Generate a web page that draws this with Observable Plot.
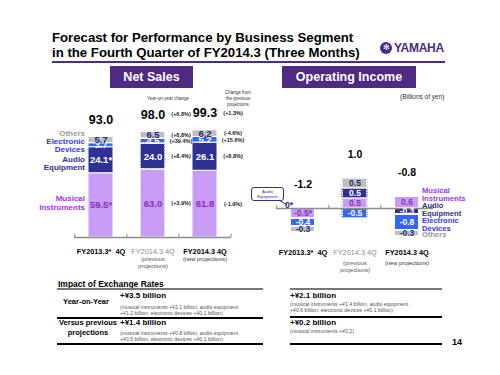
<!DOCTYPE html>
<html><head><meta charset="utf-8">
<script src="https://cdn.jsdelivr.net/npm/d3@7"></script>
<script src="https://cdn.jsdelivr.net/npm/@observablehq/plot@0.6"></script>
<style>
body{margin:0;background:#fff;}
#page{position:relative;width:500px;height:375px;overflow:hidden;font-family:"Liberation Sans",Arial,sans-serif;color:#000;background:#fff;}
#page > div, #page > svg{position:absolute;}
.hdr{background:#4e2a84;color:#fff;font-weight:bold;font-size:12.5px;display:flex;align-items:center;justify-content:center;}
.b{font-weight:bold;}
.sm{font-size:5.2px;color:#555;line-height:6.3px;white-space:nowrap;}
</style></head><body>
<div id="page">
  <div class="b" style="left:52px;top:30px;font-size:13.2px;line-height:15px;white-space:nowrap;">Forecast for Performance by Business Segment<br>in the Fourth Quarter of FY2014.3 (Three Months)</div>
  <div style="left:52px;top:61px;width:393px;height:2px;background:#4b2c86;"></div>
  <div style="left:380px;top:42px;width:12px;height:12px;border-radius:50%;background:#4b2c86;color:#fff;font-size:8px;line-height:12px;text-align:center;">✻</div>
  <div class="b" style="left:394px;top:41px;font-size:12px;color:#4b2c86;letter-spacing:-0.3px;">YAMAHA</div>
  <div class="hdr" style="left:110px;top:66px;width:83px;height:22px;">Net Sales</div>
  <div class="hdr" style="left:282px;top:66px;width:134px;height:22px;">Operating Income</div>
  <div style="left:400px;top:93px;font-size:6.5px;color:#333;">(Billions of yen)</div>
  <div style="left:140px;top:96px;width:56px;text-align:center;font-size:4.5px;color:#333;">Year-on-year change</div>
  <div style="left:215px;top:90px;width:46px;text-align:center;font-size:4.5px;line-height:5.8px;color:#333;">Change from<br>the previous<br>projections</div>
  <div id="sales" style="left:0;top:90px;"></div>
  <div id="oi" style="left:250px;top:90px;"></div>
  <div style="left:251px;top:187px;width:31px;height:12px;border:1px solid #2e3192;border-radius:3px;background:#fff;color:#2e3192;font-size:4.3px;line-height:5px;text-align:center;display:flex;align-items:center;justify-content:center;">Audio<br>Equipment</div>
  <svg style="left:276px;top:198px;" width="14" height="10"><path d="M3,2 L11,7" stroke="#2e3192" stroke-width="1" fill="none"/></svg>

  <div class="b" style="left:58px;top:279px;font-size:8.5px;">Impact of Exchange Rates</div>
  <div style="left:57px;top:288px;width:206px;height:2px;background:#777;"></div>
  <div style="left:290px;top:288px;width:152px;height:2px;background:#777;"></div>
  <div class="b" style="left:57px;top:297px;width:58px;text-align:center;font-size:7.5px;">Year-on-Year</div>
  <div class="b" style="left:120px;top:291px;font-size:8px;">+¥3.5 billion</div>
  <div class="sm" style="left:120px;top:304px;">(musical instruments +¥2.1 billion, audio equipment<br>+¥1.2 billion, electronic devices +¥0.1 billion)</div>
  <div style="left:57px;top:317px;width:206px;height:1.5px;background:#000;"></div>
  <div class="b" style="left:57px;top:318px;width:62px;text-align:center;font-size:7.5px;line-height:10px;">Versus previous<br>projections</div>
  <div class="b" style="left:120px;top:318px;font-size:8px;">+¥1.4 billion</div>
  <div class="sm" style="left:120px;top:330px;">(musical instruments +¥0.8 billion, audio equipment<br>+¥0.5 billion, electronic devices +¥0.1 billion)</div>
  <div style="left:57px;top:343px;width:206px;height:2px;background:#000;"></div>
  <div class="b" style="left:290px;top:291px;font-size:8px;">+¥2.1 billion</div>
  <div class="sm" style="left:290px;top:301px;">(musical instruments +¥1.4 billion, audio equipment<br>+¥0.6 billion, electronic devices +¥0.1 billion)</div>
  <div style="left:290px;top:316px;width:152px;height:1.5px;background:#000;"></div>
  <div class="b" style="left:290px;top:318px;font-size:8px;">+¥0.2 billion</div>
  <div class="sm" style="left:290px;top:328px;">(musical instruments +¥0.2)</div>
  <div style="left:290px;top:343px;width:152px;height:2px;background:#000;"></div>
  <div class="b" style="left:452px;top:337px;font-size:9px;">14</div>
</div>
<script>
// ---- data ----
const periods = ["FY2013.3 4Q", "FY2014.3 4Q (previous)", "FY2014.3 4Q (new)"];
const periodLine1 = ["FY2013.3*  4Q", "FY2014.3 4Q", "FY2014.3 4Q"];
const periodLine2 = ["", "(previous\nprojections)", "(new projections)"];
const segments = ["Musical Instruments", "Audio Equipment", "Electronic Devices", "Others"];
const segmentLabels = ["Musical\nInstruments", "Audio\nEquipment", "Electronic\nDevices", "Others"];

const salesMusical    = [59.5, 63.0, 61.8];
const salesAudio      = [24.1, 24.0, 26.1];
const salesElectronic = [3.7, 4.5, 5.2];
const salesOthers     = [5.7, 6.5, 6.2];
const salesTotal      = [93.0, 98.0, 99.3];

const yoyTotal = "(+6.8%)";
const yoyBySegment = ["(+3.9%)", "(+8.4%)", "(+39.4%)", "(+8.8%)"];
const projTotal = "(+1.3%)";
const projBySegment = ["(-1.9%)", "(+8.8%)", "(+15.6%)", "(-4.6%)"];

const oiMusical    = [-0.5, 0.5, 0.6];
const oiAudio      = [0, 0.5, -0.3];
const oiElectronic = [-0.4, -0.5, -0.8];
const oiOthers     = [-0.3, 0.5, -0.3];
const oiTotal      = [-1.2, 1.0, -0.8];

// ---- styles ----
const segFill = {"Musical Instruments":"#c89cf6","Audio Equipment":"#2e3192","Electronic Devices":"#3366ff","Others":"#bfbfbf"};
const segInk  = {"Musical Instruments":"#8a2cc0","Audio Equipment":"#ffffff","Electronic Devices":"#ffffff","Others":"#1c2a80"};
const segLegendInk = {"Musical Instruments":"#a035f2","Audio Equipment":"#2e3192","Electronic Devices":"#3535f0","Others":"#9a9a9a"};
const FONT = "Liberation Sans, Arial, sans-serif";

function makeRows(cols) {
  const out = [];
  periods.forEach((p, i) => segments.forEach((s, j) => out.push({period: p, i, seg: s, j, value: cols[j][i]})));
  return out;
}
const salesRows = makeRows([salesMusical, salesAudio, salesElectronic, salesOthers]);
const oiRows = makeRows([oiMusical, oiAudio, oiElectronic, oiOthers]);
const salesTot = periods.map((p, i) => ({period: p, i, total: salesTotal[i]}));
const oiTot = periods.map((p, i) => {
  const pos = oiRows.filter(d => d.i === i && d.value > 0).reduce((a, d) => a + d.value, 0);
  return {period: p, i, total: oiTotal[i], top: pos};
});
const cats = periods.map((p, i) => ({period: p, i, l1: periodLine1[i], l2: periodLine2[i]}));

const st = {x: "period", y: "value", z: "seg", order: segments};

function categoryMarks(dy1, dy2) {
  return [
    Plot.text(cats.filter(d => d.i === 0), {x: "period", y: 0, text: "l1", dy: dy1, fontSize: 7.3, fontWeight: "bold", fill: "#000"}),
    Plot.text(cats.filter(d => d.i === 1), {x: "period", y: 0, text: "l1", dy: dy1, fontSize: 7.3, fill: "#8a8a8a"}),
    Plot.text(cats.filter(d => d.i === 2), {x: "period", y: 0, text: "l1", dy: dy1, fontSize: 7.3, fontWeight: "bold", fill: "#000", ariaLabel: "underlined"}),
    Plot.text(cats.filter(d => d.i === 1), {x: "period", y: 0, text: "l2", dy: dy2, fontSize: 5.8, lineHeight: 1.2, lineAnchor: "top", fill: "#555"}),
    Plot.text(cats.filter(d => d.i === 2), {x: "period", y: 0, text: "l2", dy: dy2, fontSize: 5.8, lineAnchor: "top", fill: "#333"})
  ];
}

// segment-name labels beside one bar, one mark per segment so each can be nudged
function legendMarks(rows, barIndex, anchor, dx, dys, fontSize) {
  return segments.map((s, j) => Plot.text(rows, Plot.stackY({...st,
    text: d => d.i === barIndex && d.j === j ? segmentLabels[j] : null,
    fill: segLegendInk[s], textAnchor: anchor, dx, dy: dys[j],
    fontSize, fontWeight: "bold", lineHeight: 1.1})));
}

// ---- Net sales ----
const sW = 270, sML = 74, sMR = 39;
const sStep = (sW - sML - sMR) / periods.length;
const sales = Plot.plot({
  width: sW, height: 190, marginLeft: sML, marginRight: sMR, marginTop: 39, marginBottom: 43,
  style: {background: "transparent", fontFamily: FONT, overflow: "visible"},
  x: {type: "band", domain: periods, paddingInner: 0.52, paddingOuter: 0.26, axis: null},
  y: {domain: [0, 100], axis: null},
  color: {type: "identity"},
  marks: [
    Plot.barY(salesRows, Plot.stackY({...st, fill: d => segFill[d.seg], stroke: "#fff", strokeWidth: 1})),
    Plot.barY(salesRows, Plot.stackY({...st, fill: "none", stroke: d => d.i === 1 ? "#ffffff" : null, strokeWidth: 1.2, strokeDasharray: "1.5,1.5"})),
    Plot.ruleY([0], {stroke: "#8c8c8c", strokeWidth: 1.3}),
    Plot.ruleX(periods, {x: d => d, dx: -sStep / 2, y1: 0, y2: 3, stroke: "#8c8c8c"}),
    Plot.ruleX([periods[2]], {x: d => d, dx: sStep / 2, y1: 0, y2: 3, stroke: "#8c8c8c"}),
    Plot.text(salesRows, Plot.stackY({...st, text: d => d.value.toFixed(1) + (d.i === 0 && d.j < 2 ? "*" : ""), fill: d => segInk[d.seg], fontSize: 9.5, fontWeight: "bold"})),
    ...legendMarks(salesRows, 0, "end", -16, [-3, 3, 0, -7], 8),
    Plot.text(salesRows, Plot.stackY({...st, text: d => d.i === 1 ? yoyBySegment[d.j] : d.i === 2 ? projBySegment[d.j] : null, dx: 28, fontSize: 5.5, fontWeight: "bold", fill: "#222"})),
    Plot.text(salesTot, {x: "period", y: "total", text: d => d.total.toFixed(1), dy: -17, fontSize: 12.5, fontWeight: "bold", fill: "#000"}),
    Plot.text(salesTot, {x: "period", y: "total", text: d => d.i === 1 ? yoyTotal : d.i === 2 ? projTotal : null, dy: -17, dx: 28, fontSize: 5.5, fontWeight: "bold", fill: "#222"}),
    ...categoryMarks(14, 19)
  ]
});
document.getElementById("sales").appendChild(sales);

// ---- Operating income ----
const oW = 250, oML = 26, oMR = 67;
const oStep = (oW - oML - oMR) / periods.length;
const oi = Plot.plot({
  width: oW, height: 190, marginLeft: oML, marginRight: oMR, marginTop: 0, marginBottom: 0,
  style: {background: "transparent", fontFamily: FONT, overflow: "visible"},
  x: {type: "band", domain: periods, paddingInner: 0.52, paddingOuter: 0.26, axis: null},
  y: {domain: [-3, 4], range: [178, 38], axis: null},
  color: {type: "identity"},
  marks: [
    Plot.barY(oiRows, Plot.stackY({...st, fill: d => segFill[d.seg], stroke: "#fff", strokeWidth: 2})),
    Plot.barY(oiRows, Plot.stackY({...st, fill: "none", stroke: d => d.i === 1 && d.value !== 0 ? segFill[d.seg] : null, strokeWidth: 1, strokeDasharray: "1.5,1", insetTop: 1, insetBottom: 1})),
    Plot.ruleY([0], {stroke: "#8c8c8c", strokeWidth: 1.6}),
    Plot.ruleX(periods, {x: d => d, dx: -oStep / 2, y1: 0, y2: 0.16, stroke: "#8c8c8c"}),
    Plot.ruleX([periods[2]], {x: d => d, dx: oStep / 2, y1: 0, y2: 0.16, stroke: "#8c8c8c"}),
    Plot.text(oiRows, Plot.stackY({...st, text: d => d.value === 0 ? null : d.value.toFixed(1) + (d.i === 0 && d.j === 0 ? "*" : ""), fill: d => segInk[d.seg], fontSize: 8.5, fontWeight: "bold"})),
    Plot.text(oiRows.filter(d => d.value === 0), {x: "period", y: "value", text: d => "0" + (d.i === 0 ? "*" : ""), dx: -14, dy: -3, fontSize: 8.5, fontWeight: "bold", fill: "#1c2a80"}),
    ...legendMarks(oiRows, 2, "start", 15, [-8, -2, 2, 1], 7.6),
    Plot.text(oiTot, {x: "period", y: "top", text: d => d.total.toFixed(1), dy: -24, fontSize: 10.5, fontWeight: "bold", fill: "#000"}),
    ...categoryMarks(44, 52)
  ]
});
document.getElementById("oi").appendChild(oi);

document.querySelectorAll('g[aria-label="underlined"] text').forEach(t => t.style.textDecoration = "underline");
</script>
</body></html>
